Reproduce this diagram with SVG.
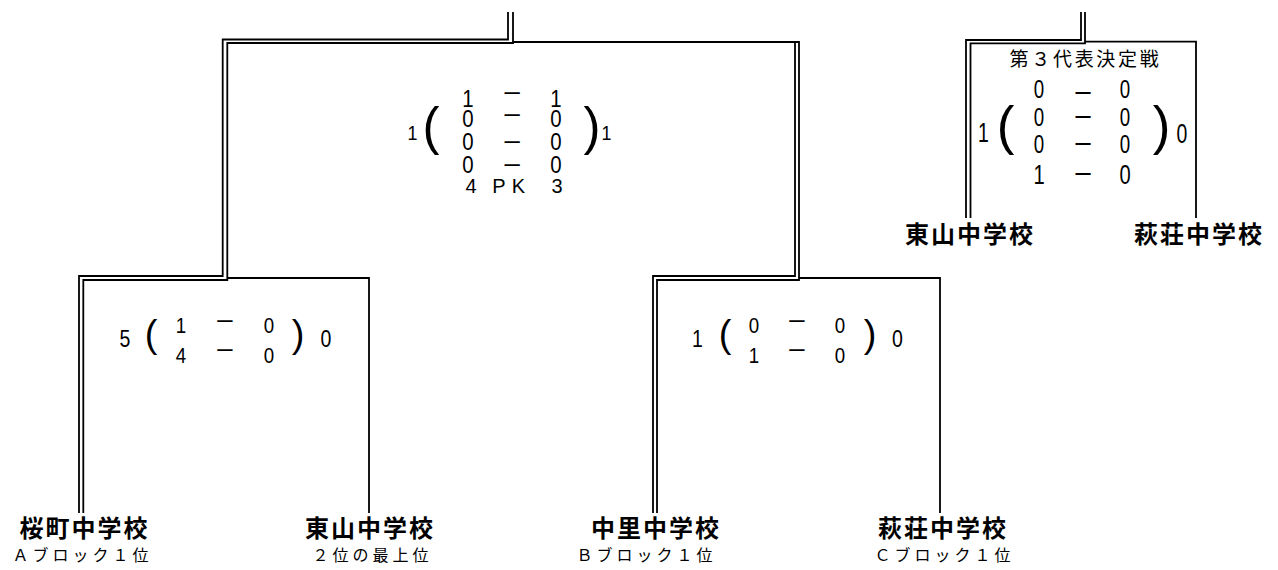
<svg xmlns="http://www.w3.org/2000/svg" width="1278" height="570" viewBox="0 0 1278 570">
<style>
.ln{fill:none;stroke:#000;stroke-width:1.8}
.num{font-family:"Liberation Sans",Arial,sans-serif;fill:#000;text-anchor:middle}
.dash{font-family:"Liberation Sans",Arial,sans-serif;font-weight:bold;fill:#000;text-anchor:middle}
.name{font-family:"Noto Sans CJK JP",sans-serif;font-weight:bold;font-size:24px;letter-spacing:2px;text-anchor:middle;fill:#000}
.sub{font-family:"Noto Sans CJK JP",sans-serif;font-size:16px;letter-spacing:4px;text-anchor:middle;fill:#000}
.ttl{font-family:"Noto Sans CJK JP",sans-serif;font-size:19px;letter-spacing:2.7px;text-anchor:middle;fill:#000}
</style>
<rect width="1278" height="570" fill="#fff"/>
<g id="connectors">
<path class="ln" d="M508 12 V39.5 H222.7 V276 H79 V513"/>
<path class="ln" d="M513 12 V43 H227.3 V280 H83.3 V513"/>
<path class="ln" d="M513 42 H799 V280 H657 V513"/>
<path class="ln" d="M795 42 V276 H653 V513"/>
<path class="ln" d="M227.3 278 H369 V513"/>
<path class="ln" d="M799 278 H940 V513"/>
<path class="ln" d="M1081 12 V40 H966 V218"/>
<path class="ln" d="M1085 12 V43.3 H970.5 V218"/>
<path class="ln" d="M1085 41.7 H1196 V218"/>
</g>
<g id="final-score">
<g transform="scale(0.85,1)">
<text class="num" font-size="24"><tspan x="550.6" y="107">1</tspan><tspan class="dash" x="602.4" y="98" font-size="18">—</tspan><tspan x="654.1" y="107">1</tspan></text>
<text class="num" font-size="24"><tspan x="550.6" y="127">0</tspan><tspan class="dash" x="602.4" y="120" font-size="18" font-weight="normal">—</tspan><tspan x="654.1" y="127">0</tspan></text>
<text class="num" font-size="24"><tspan x="550.6" y="150">0</tspan><tspan class="dash" x="602.4" y="147" font-size="18" font-weight="normal">—</tspan><tspan x="654.1" y="150">0</tspan></text>
<text class="num" font-size="24"><tspan x="550.6" y="173">0</tspan><tspan class="dash" x="602.4" y="170" font-size="18" font-weight="normal">—</tspan><tspan x="654.1" y="173">0</tspan></text>
<text class="num" font-size="21" x="485.3" y="140">1</text>
<text class="num" font-size="21" x="713.5" y="140">1</text>
</g>
<text class="num" font-size="20" y="193"><tspan x="471">4</tspan><tspan x="499">P</tspan><tspan x="518.5">K</tspan><tspan x="557">3</tspan></text>
<text class="num" font-size="51" x="431" y="144">(</text>
<text class="num" font-size="51" x="592" y="144">)</text>
</g>
<g id="semi1-score">
<g transform="scale(0.85,1)">
<text class="num" font-size="23" x="147.1" y="347">5</text>
<text class="num" font-size="22"><tspan x="212.9" y="333">1</tspan><tspan class="dash" x="264.7" y="326" font-size="18" font-weight="normal">—</tspan><tspan x="316.5" y="333">0</tspan></text>
<text class="num" font-size="22"><tspan x="212.9" y="363">4</tspan><tspan class="dash" x="264.7" y="355" font-size="18" font-weight="normal">—</tspan><tspan x="316.5" y="363">0</tspan></text>
<text class="num" font-size="23" x="383.5" y="347">0</text>
</g>
<text class="num" font-size="38" x="151" y="347">(</text>
<text class="num" font-size="38" x="298" y="347">)</text>
</g>
<g id="semi2-score">
<g transform="scale(0.85,1)">
<text class="num" font-size="23" x="820.6" y="347">1</text>
<text class="num" font-size="22"><tspan x="887.1" y="333">0</tspan><tspan class="dash" x="937.6" y="326" font-size="18">—</tspan><tspan x="988.2" y="333">0</tspan></text>
<text class="num" font-size="22"><tspan x="887.1" y="363">1</tspan><tspan class="dash" x="937.6" y="355" font-size="18" font-weight="normal">—</tspan><tspan x="988.2" y="363">0</tspan></text>
<text class="num" font-size="23" x="1055.9" y="347">0</text>
</g>
<text class="num" font-size="38" x="725" y="347">(</text>
<text class="num" font-size="38" x="870" y="347">)</text>
</g>
<g id="third-place">
<text class="ttl" x="1085.5" y="65.7">第３代表決定戦</text>
<g transform="scale(0.72,1)">
<text class="num" font-size="26"><tspan x="1443.1" y="98">0</tspan><tspan class="dash" x="1504.2" y="98.5" font-size="21" font-weight="normal">—</tspan><tspan x="1562.5" y="98">0</tspan></text>
<text class="num" font-size="26"><tspan x="1443.1" y="126">0</tspan><tspan class="dash" x="1504.2" y="122" font-size="21" font-weight="normal">—</tspan><tspan x="1562.5" y="126">0</tspan></text>
<text class="num" font-size="26"><tspan x="1443.1" y="153">0</tspan><tspan class="dash" x="1504.2" y="149" font-size="21" font-weight="normal">—</tspan><tspan x="1562.5" y="153">0</tspan></text>
<text class="num" font-size="28"><tspan x="1443.1" y="184">1</tspan><tspan class="dash" x="1504.2" y="179" font-size="21">—</tspan><tspan x="1562.5" y="184">0</tspan></text>
<text class="num" font-size="27" x="1366" y="142">1</text>
<text class="num" font-size="27" x="1641.7" y="143">0</text>
</g>
<text class="num" font-size="53" x="1005.5" y="144">(</text>
<text class="num" font-size="53" x="1161.5" y="144">)</text>
</g>
<g id="team-sakuramachi">
<text class="name" x="84.5" y="536.6">桜町中学校</text>
<text class="sub" x="82.5" y="561">Ａブロック１位</text>
</g>
<g id="team-higashiyama">
<text class="name" x="370" y="536.6">東山中学校</text>
<text class="sub" x="372.5" y="561">２位の最上位</text>
</g>
<g id="team-nakasato">
<text class="name" x="656" y="536.6">中里中学校</text>
<text class="sub" x="646.5" y="561">Ｂブロック１位</text>
</g>
<g id="team-hagisho">
<text class="name" x="943" y="536.6">萩荘中学校</text>
<text class="sub" x="944.5" y="561">Ｃブロック１位</text>
</g>
<g id="team-higashiyama-3rd">
<text class="name" x="970" y="243.3">東山中学校</text>
</g>
<g id="team-hagisho-3rd">
<text class="name" x="1199" y="243.3">萩荘中学校</text>
</g>
</svg>
